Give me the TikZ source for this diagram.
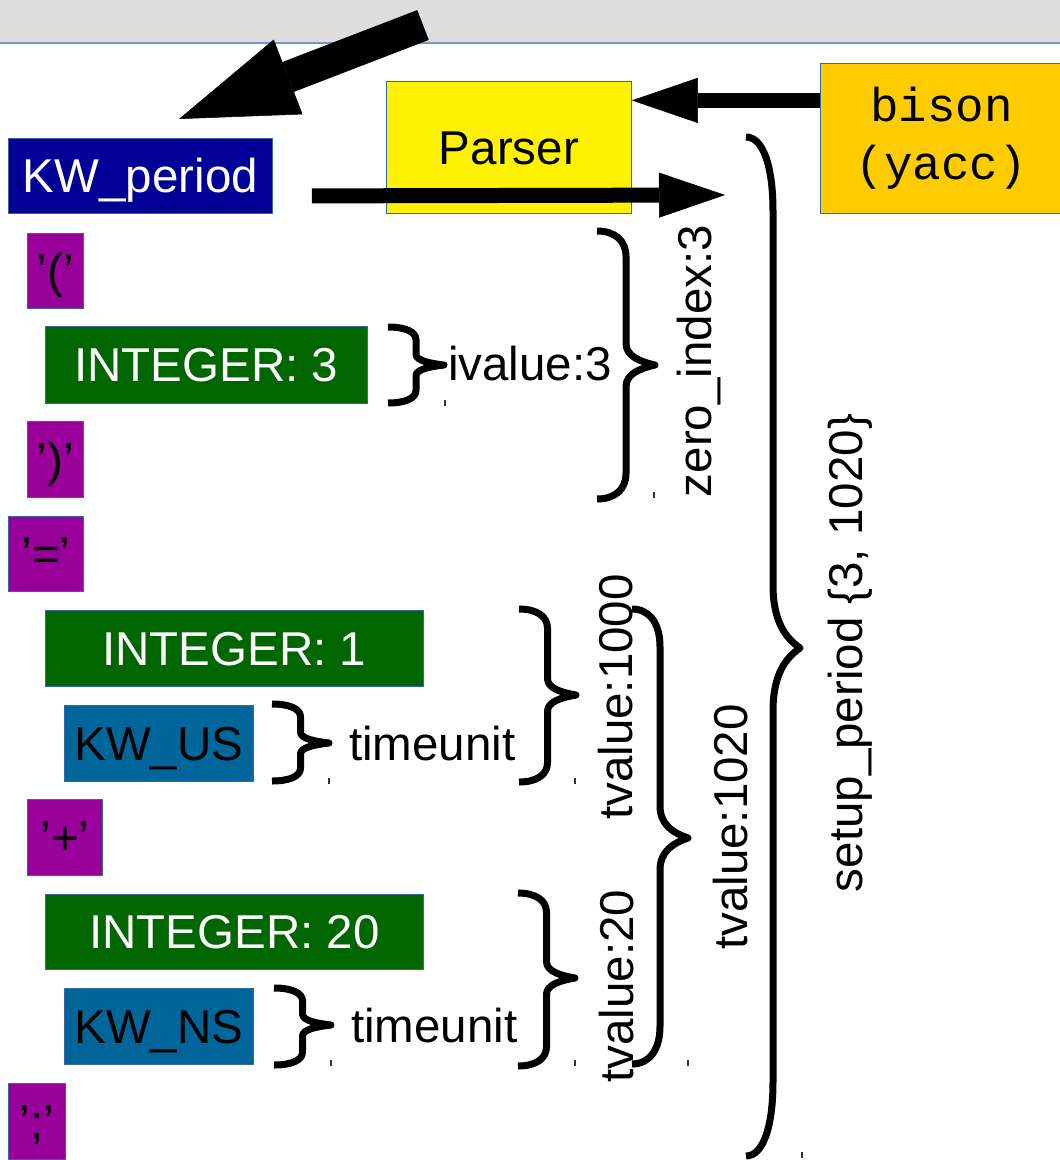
\documentclass[tikz,border=0pt]{standalone}
\usepackage{fontspec}
\setmainfont{Liberation Sans}
\newfontfamily\bisonfont{Liberation Mono}
\usetikzlibrary{arrows.meta}
\definecolor{kwnavy}{RGB}{0,0,150}
\definecolor{tokpurple}{RGB}{153,0,153}
\definecolor{intgreen}{RGB}{0,102,0}
\definecolor{unitblue}{RGB}{0,102,153}
\definecolor{bisonorange}{RGB}{255,204,0}
\definecolor{frameblue}{RGB}{52,101,164}
\definecolor{bandgray}{RGB}{221,221,221}
\definecolor{bandline}{RGB}{130,148,190}

\newcommand{\curly}[5]{%
  \pgfmathsetmacro\xm{(#1+#4)/2}%
  \pgfmathsetmacro\dx{(#4-#1)/2}%
  \pgfmathsetmacro\re{min((#3-#2)/6,8+0.065*(#3-#2))}%
  \pgfmathsetmacro\rt{0.85*\re}%
  \draw[brace line] (#1,#2) .. controls (#1+0.62*\dx,#2) and (\xm,#2+0.38*\re) .. (\xm,#2+\re)
    -- (\xm,#5-\rt) .. controls (\xm,#5-0.4*\rt) and (\xm+0.5*\dx,#5-0.15*\rt) .. (#4,#5)
    .. controls (\xm+0.5*\dx,#5+0.15*\rt) and (\xm,#5+0.4*\rt) .. (\xm,#5+\rt)
    -- (\xm,#3-\re) .. controls (\xm,#3-0.38*\re) and (#1+0.62*\dx,#3) .. (#1,#3);}

\begin{document}
\begin{tikzpicture}[x=1pt,y=-1pt,
  font=\fontsize{47.5}{57}\selectfont,
  tok box/.style={anchor=north west,draw=frameblue,line width=0.8pt,inner sep=0pt,text height=34pt,text depth=0pt},
  label text/.style={inner sep=0pt,text height=34pt,text depth=0pt},
  fat arrow/.style={line width=15pt,-{Triangle[length=66pt,width=45pt,line width=0.5pt]}},
  big arrow/.style={line width=32pt,-{Triangle[length=117pt,width=80pt,line width=0.5pt]}},
  brace line/.style={line width=7pt,line join=round},
  tick line/.style={line width=1.2pt,black!80}]
                \useasboundingbox (0,0) rectangle (1060,1160);
                \fill[bandgray] (0,0) rectangle (1060,43);
                \draw[bandline, line width=1.5pt] (0,43) -- (1060,43);

                \node[tok box, fill=kwnavy, text=white, minimum width=264pt, minimum height=75pt] (KWperiod) at (8,138) {KW\_period};
                \node[tok box, fill=yellow, minimum width=245pt, minimum height=132pt] (parser) at (386,81) {Parser};
                \node[anchor=north west, draw=frameblue, line width=0.8pt, fill=bisonorange, minimum width=242pt, minimum height=150pt, align=center, font=\bisonfont\fontsize{47.5}{58}\selectfont] (bison) at (820,63) {bison\\(yacc)};
                \node[tok box, fill=tokpurple, minimum width=56pt, minimum height=75pt] (lparen) at (27,233) {’(’};
                \node[tok box, fill=intgreen, text=white, minimum width=322pt, minimum height=77pt] (int3) at (45,326) {INTEGER: 3};
                \node[tok box, fill=tokpurple, minimum width=56pt, minimum height=76pt] (rparen) at (27,421) {’)’};
                \node[tok box, fill=tokpurple, minimum width=75pt, minimum height=75pt] (equals) at (8,516) {’=’};
                \node[tok box, fill=intgreen, text=white, minimum width=378pt, minimum height=76pt] (int1) at (45,610) {INTEGER: 1};
                \node[tok box, fill=unitblue, minimum width=189pt, minimum height=76pt] (kwus) at (64,705) {KW\_US};
                \node[tok box, fill=tokpurple, minimum width=75pt, minimum height=76pt] (plus) at (27,799) {’+’};
                \node[tok box, fill=intgreen, text=white, minimum width=378pt, minimum height=75pt] (int20) at (45,894) {INTEGER: 20};
                \node[tok box, fill=unitblue, minimum width=189pt, minimum height=76pt] (kwns) at (64,988) {KW\_NS};
                \node[tok box, fill=tokpurple, minimum width=57pt, minimum height=76pt] (semi) at (8,1083) {’;’};

                \coordinate (bigtail) at (423,25);
                \coordinate (bigtip) at (179,119);
                \coordinate (parsetip) at (725,195);
                \draw[big arrow] (bigtail) -- (bigtip);
                \draw[fat arrow] ([yshift=38pt]bison.west) -- ([yshift=47pt]parser.east);
                \draw[fat arrow] ([xshift=39pt,yshift=-20pt]KWperiod.east) -- (parsetip);

                \curly{388}{327}{403}{444}{365}
                \curly{597}{231}{499}{655}{365}
                \curly{272}{704}{781}{329}{743}
                \curly{519}{609}{782}{576}{695}
                \curly{274}{988}{1065}{331}{1025}
                \curly{518}{893}{1066}{575}{978}
                \curly{632}{609}{1064}{688}{838}
                \curly{746}{137}{1156}{800}{648}

                \node[label text, anchor=west] (ivalue) at (448,363) {ivalue:3};
                \node[label text, anchor=west] (unitus) at (349,743) {timeunit};
                \node[label text, anchor=west] (unitns) at (351,1025) {timeunit};
                \node[label text, rotate=90] (zeroindex) at (694,361) {zero\_index:3};
                \node[label text, rotate=90] (tval1000) at (615,697) {tvalue:1000};
                \node[label text, rotate=90] (tval20) at (616,986) {tvalue:20};
                \node[label text, rotate=90] (tval1020) at (730,827) {tvalue:1020};
                \node[label text, rotate=90] (setup) at (845,653) {setup\_period \{3, 1020\}};

                \foreach \tx/\ty in {445/403, 654/495, 329/781, 575/781, 331/1063, 575/1063, 688/1063, 802/1155}
                  \draw[tick line] (\tx,\ty-3) -- (\tx,\ty+3);
            \end{tikzpicture}
\end{document}
